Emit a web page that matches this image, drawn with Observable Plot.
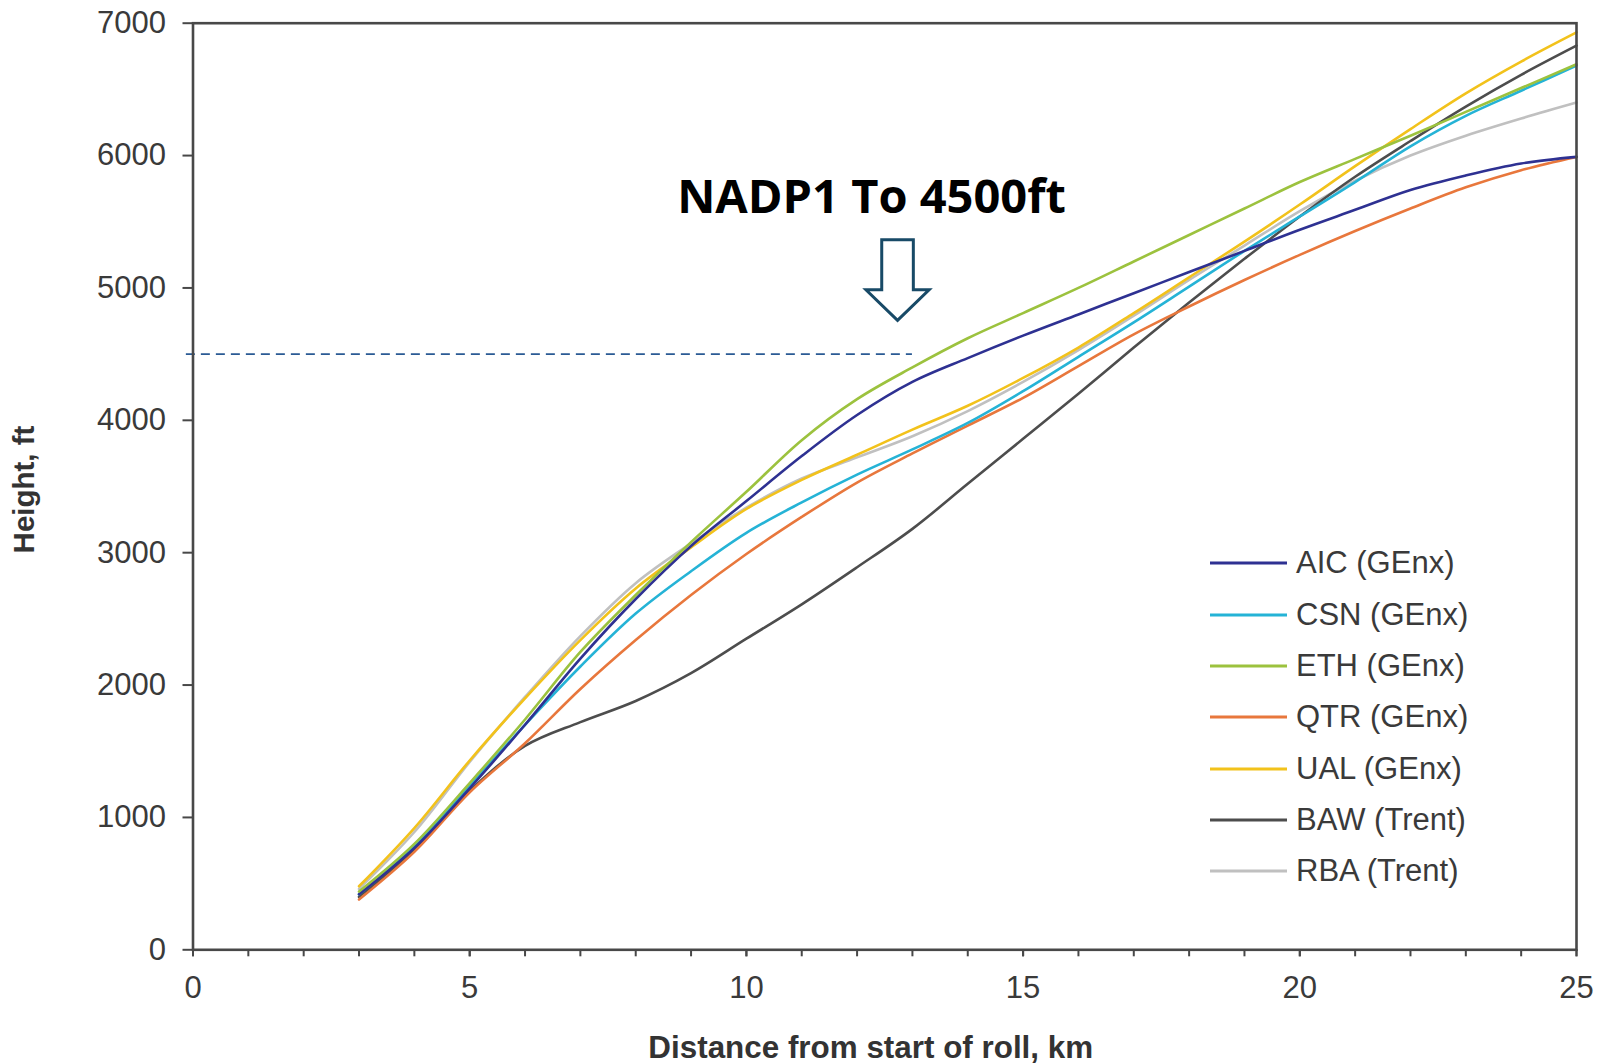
<!DOCTYPE html>
<html>
<head>
<meta charset="utf-8">
<script src="https://cdn.jsdelivr.net/npm/d3@7"></script>
<script src="https://cdn.jsdelivr.net/npm/@observablehq/plot@0.6"></script>
<style>
  html, body { margin: 0; padding: 0; background: #fff; }
  #wrap { position: relative; width: 1598px; height: 1064px; }
  #legend { position: absolute; left: 1210px; top: 537.7px; font-family: "Liberation Sans", Arial, sans-serif; font-size: 31px; color: #3a3a3a; }
  .row { display: flex; align-items: center; height: 51.35px; }
  .row svg { width: 86px; height: 10px; }
</style>
</head>
<body>
<div id="wrap"></div>
<script>
// ---- data ----
const km = [3,4,5,6,7,8,9,10,11,12,13,14,15,16,17,18,19,20,21,22,23,24,25];
const AIC = [420,770,1220,1700,2200,2650,3050,3390,3730,4040,4290,4470,4640,4800,4960,5120,5280,5440,5590,5740,5850,5940,5990];
const CSN = [420,780,1240,1700,2140,2540,2860,3150,3380,3590,3780,3980,4220,4480,4740,5010,5280,5540,5800,6070,6300,6490,6680];
const ETH = [440,800,1260,1740,2250,2680,3080,3460,3850,4160,4400,4620,4810,5000,5200,5400,5600,5800,5975,6150,6330,6510,6690];
const QTR = [380,740,1190,1560,1970,2340,2680,2990,3270,3530,3750,3960,4170,4410,4650,4860,5060,5250,5430,5600,5760,5890,5990];
const UAL = [480,920,1430,1900,2340,2730,3040,3330,3550,3740,3930,4110,4320,4550,4810,5080,5350,5630,5920,6200,6470,6710,6930];
const BAW = [400,760,1200,1540,1720,1880,2090,2350,2610,2890,3180,3520,3860,4200,4550,4890,5220,5540,5840,6110,6370,6610,6830];
const RBA = [460,890,1420,1910,2370,2770,3070,3340,3560,3720,3880,4070,4290,4530,4790,5060,5320,5580,5810,6000,6150,6280,6400];

const seriesNames = ["AIC (GEnx)","CSN (GEnx)","ETH (GEnx)","QTR (GEnx)","UAL (GEnx)","BAW (Trent)","RBA (Trent)"];
const seriesValues = [AIC, CSN, ETH, QTR, UAL, BAW, RBA];
const seriesColors = ["#2e3192","#25b3d6","#9cc23e","#e8773c","#f2c21b","#4d4d4d","#c0c0c0"];
// draw order: light gray behind, then others
const drawOrder = [6, 5, 3, 1, 4, 0, 2];

const xTicks = [0,5,10,15,20,25];
const xMinorTicks = d3.range(0, 26, 1);
const yTicks = [0,1000,2000,3000,4000,5000,6000,7000];

const threshold = [{ft: 4500, from: -0.12, to: 13}];
const annotation = [{label: "NADP1 To 4500ft", km: 12.26, ft: 5680}];
const arrowTip = [{km: 12.74, ft: 4751}];

// ---- table ----
const rows = [];
for (const i of drawOrder) {
  km.forEach((k, j) => rows.push({series: seriesNames[i], km: k, ft: seriesValues[i][j]}));
}

const W = 1598, H = 1064;
const mL = 192.5, mR = 22, mT = 22.7, mB = 114.7;

function arrowMark(index, scales, values, dimensions) {
  let sx = scales && typeof scales.x === "function" ? scales.x : d3.scaleLinear([0,25],[mL, W - mR]);
  let sy = scales && typeof scales.y === "function" ? scales.y : d3.scaleLinear([0,7000],[H - mB, mT]);
  const a = arrowTip[0];
  const tx = sx(a.km), ty = sy(a.ft);
  const sw = 15.8, hw = 31.6, headH = 30.7, shaftH = 50;
  const d = `M${tx-sw},${ty-headH-shaftH}L${tx+sw},${ty-headH-shaftH}L${tx+sw},${ty-headH}L${tx+hw},${ty-headH}L${tx},${ty}L${tx-hw},${ty-headH}L${tx-sw},${ty-headH}Z`;
  const g = d3.create("svg:path")
    .attr("d", d)
    .attr("fill", "#fff")
    .attr("stroke", "#184a67")
    .attr("stroke-width", 3)
    .attr("stroke-linejoin", "miter");
  return g.node();
}

const chart = Plot.plot({
  width: W,
  height: H,
  marginLeft: mL,
  marginRight: mR,
  marginTop: mT,
  marginBottom: mB,
  style: {fontFamily: "'Liberation Sans', Arial, sans-serif", fontSize: "31px", color: "#3a3a3a", background: "#fff"},
  x: {domain: [0, 25]},
  y: {domain: [0, 7000]},
  marks: [
    Plot.line(rows, {
      x: "km", y: "ft", z: "series",
      stroke: d => seriesColors[seriesNames.indexOf(d.series)],
      strokeWidth: 2.6, curve: "catmull-rom"
    }),
    Plot.ruleY(threshold, {y: "ft", x1: "from", x2: "to", stroke: "#2a5a94", strokeWidth: 1.6, strokeDasharray: "9,6"}),
    arrowMark,
    Plot.text(annotation, {x: "km", y: "ft", text: "label", fontSize: 47, fontWeight: "bold", fontFamily: "'Open Sans', 'Noto Sans', sans-serif", fill: "#000", textAnchor: "middle", lineAnchor: "middle"}),
    Plot.frame({stroke: "#484848", strokeWidth: 2.6}),
    Plot.axisX({ticks: xMinorTicks, tickSize: 7, text: null, stroke: "#484848", strokeWidth: 2, label: null}),
    Plot.axisX({ticks: xTicks, tickSize: 7, tickPadding: 19, tickFormat: d => String(d), stroke: "#484848", strokeWidth: 2, label: null, fill: "#3a3a3a"}),
    Plot.axisY({ticks: yTicks, tickSize: 10, tickPadding: 17, tickFormat: d => String(d), stroke: "#484848", strokeWidth: 2, label: null, fill: "#3a3a3a"}),
    Plot.text(["Height, ft"], {frameAnchor: "left", dx: -168, dy: 3, rotate: -90, fontSize: 29.5, fontWeight: "bold", fill: "#333", textAnchor: "middle", lineAnchor: "middle"}),
    Plot.text(["Distance from start of roll, km"], {frameAnchor: "bottom", dx: -14, dy: 98, fontSize: 31.4, fontWeight: "bold", fill: "#333", textAnchor: "middle", lineAnchor: "middle"})
  ]
});

const wrap = document.getElementById("wrap");
wrap.appendChild(chart);

// legend (inside plot area, as in the reference)
const legend = document.createElement("div");
legend.id = "legend";
seriesNames.forEach((name, i) => {
  const row = document.createElement("div");
  row.className = "row";
  row.innerHTML = `<svg viewBox="0 0 86 10"><line x1="0" x2="77" y1="5" y2="5" stroke="${seriesColors[i]}" stroke-width="2.8"/></svg><span>${name}</span>`;
  legend.appendChild(row);
});
wrap.appendChild(legend);
</script>
</body>
</html>
